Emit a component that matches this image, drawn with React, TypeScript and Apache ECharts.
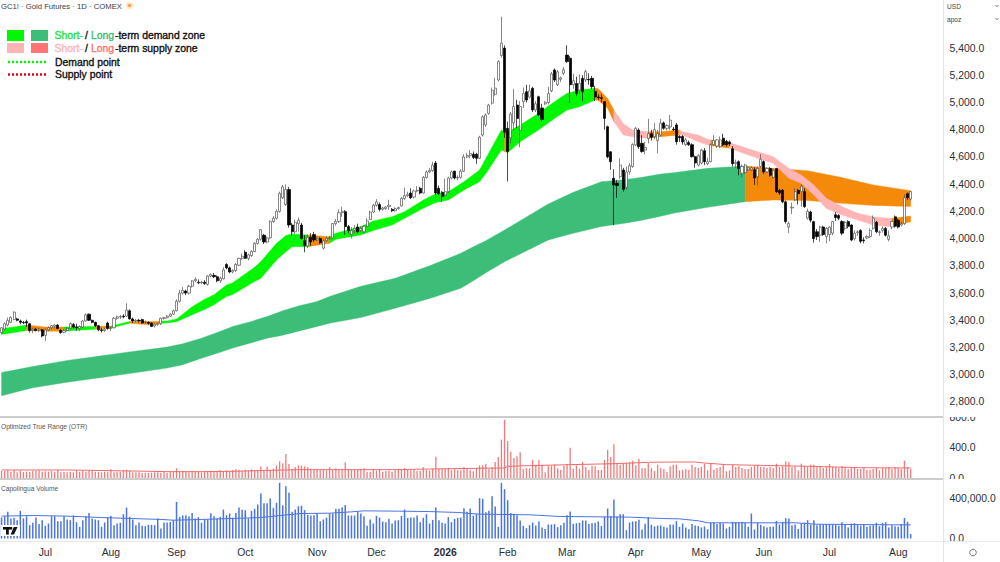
import React, { useEffect, useRef } from "react";
import * as echarts from "echarts";

type Row = number[];
// candles: [open, close, low, high]
const candlesJun: Row[] = [
[3310,3345,3300,3350],[3335,3375,3325,3385],[3365,3400,3355,3420],[3385,3420,3380,3430],[3405,3460,3400,3465],[3410,3400,3392,3418],[3395,3385,3370,3405],[3385,3382,3372,3395],[3390,3380,3350,3405],[3375,3325,3310,3380],[3325,3335,3305,3345],[3335,3325,3318,3345],[3325,3335,3315,3345],[3330,3285,3275,3335]];
const candlesJul: Row[] = [
[3290,3330,3250,3340],[3330,3345,3320,3355],[3345,3360,3335,3365],[3355,3365,3345,3372],[3365,3340,3335,3372],[3325,3310,3300,3335],[3312,3325,3305,3335],[3325,3340,3318,3350],[3340,3375,3335,3385],[3370,3350,3340,3380],[3350,3345,3325,3375],[3340,3355,3320,3362],[3350,3395,3345,3400],[3395,3440,3390,3450],[3445,3400,3395,3450],[3400,3385,3378,3405],[3385,3360,3350,3390],[3360,3330,3320,3365],[3330,3325,3310,3345],[3325,3335,3315,3345],[3380,3340,3330,3390]];
const candlesAug: Row[] = [
[3340,3345,3320,3355],[3345,3415,3340,3425],[3415,3425,3405,3435],[3425,3428,3410,3440],[3430,3425,3415,3445],[3430,3475,3425,3525],[3470,3410,3405,3480],[3410,3395,3380,3420],[3395,3400,3385,3410],[3400,3395,3385,3410],[3405,3380,3372,3412],[3385,3388,3375,3398],[3385,3378,3368,3392],[3380,3355,3350,3385],[3358,3370,3348,3375],[3370,3375,3360,3382],[3375,3415,3365,3420],[3415,3418,3405,3425],[3420,3430,3412,3438],[3430,3445,3425,3452],[3445,3470,3440,3480]];
const candlesSep: Row[] = [
[3470,3540,3465,3555],[3540,3600,3530,3625],[3600,3620,3590,3645],[3615,3600,3585,3625],[3600,3650,3590,3660],[3650,3690,3640,3695],[3690,3700,3680,3715],[3680,3675,3665,3700],[3675,3680,3665,3690],[3680,3670,3660,3695],[3665,3725,3655,3730],[3725,3735,3715,3745],[3730,3720,3710,3748],[3720,3690,3680,3730],[3690,3710,3675,3720],[3705,3770,3700,3790],[3810,3785,3775,3820],[3785,3755,3745,3795],[3755,3765,3745,3775],[3765,3810,3755,3820],[3805,3855,3800,3860],[3855,3870,3845,3890]];
const candlesOct: Row[] = [
[3900,3855,3850,3915],[3855,3880,3840,3890],[3875,3905,3865,3915],[3905,3965,3900,3975],[3965,3995,3955,4005],[3995,4065,3985,4070],[4025,3975,3960,4035],[3975,4005,3965,4015],[4005,4125,3995,4135],[4125,4150,4115,4165],[4150,4200,4140,4215],[4200,4333,4190,4345],[4300,4380,4290,4395],[4250,4360,4240,4398],[4360,4100,4080,4380],[4100,4050,4020,4115],[4050,4120,4035,4140],[4110,4135,4050,4155],[4100,4000,3990,4115],[3985,3950,3900,4025],[3945,4010,3930,4030],[4010,3975,3945,4040],[4030,3990,3975,4050]];
const candlesNov: Row[] = [
[3990,4000,3980,4015],[4000,3970,3960,4010],[3930,3985,3920,3995],[3985,4000,3975,4015],[4000,4005,3990,4020],[4005,4110,4000,4115],[4110,4125,4095,4145],[4125,4190,4115,4215],[4190,4200,4160,4235],[4198,4088,4027,4210],[4088,4060,4040,4100],[4030,4060,4000,4085],[4060,4075,4040,4100],[4085,4050,4035,4110],[4060,4075,4050,4090],[4050,4090,4040,4100],[4090,4130,4085,4150],[4140,4195,4135,4205],[4195,4245,4190,4255]];
const candlesDec: Row[] = [
[4245,4270,4235,4290],[4250,4215,4200,4265],[4215,4225,4205,4235],[4220,4232,4212,4240],[4235,4245,4210,4285],[4215,4205,4195,4225],[4205,4220,4198,4230],[4220,4228,4212,4235],[4240,4295,4235,4305],[4295,4315,4285,4375],[4315,4325,4305,4345],[4335,4300,4290,4370],[4305,4350,4295,4360],[4350,4355,4340,4385],[4370,4335,4325,4380],[4335,4450,4330,4460],[4450,4490,4440,4500],[4490,4500,4480,4520],[4500,4540,4490,4565],[4555,4335,4320,4570],[4370,4330,4320,4390],[4340,4310,4270,4350]];
const candlesJan: Row[] = [
[4320,4345,4310,4440],[4345,4445,4335,4455],[4445,4490,4435,4500],[4495,4445,4435,4500],[4445,4450,4430,4465],[4450,4495,4440,4510],[4495,4600,4490,4620],[4600,4610,4590,4630],[4610,4625,4590,4650],[4620,4595,4585,4640],[4620,4590,4550,4630],[4590,4745,4585,4755],[4761,4895,4750,4905],[4835,4908,4820,4920],[4920,4980,4910,4990],[4995,5090,4985,5110],[5060,5105,5050,5180],[5165,5300,5155,5310],[5345,5435,5330,5630],[5400,4780,4740,5420]];
const candlesFeb: Row[] = [
[4810,4640,4420,4860],[4740,4915,4700,4930],[4850,4970,4790,5100],[4981,4883,4810,5020],[4795,4970,4670,5010],[5005,5065,4960,5110],[5079,5018,5000,5130],[5040,5085,5030,5130],[5104,4945,4930,5115],[4945,4990,4930,5010],[5042,4908,4900,5050],[4960,4875,4860,4990],[4990,5000,4980,5010],[5000,5065,4985,5115],[5085,5210,5075,5225],[5238,5165,5150,5250],[5130,5225,5120,5240],[5170,5180,5150,5190],[5215,5240,5200,5260]];
const candlesMar: Row[] = [
[5348,5300,5290,5420],[5325,5130,4995,5340],[5130,5160,5100,5210],[5140,5067,5050,5190],[5090,5140,5060,5205],[5177,5079,5010,5200],[5165,5226,5150,5240],[5170,5165,5130,5215],[5177,5116,5100,5195],[5080,5040,5010,5120],[5040,5035,5020,5060],[5035,5030,5000,5060],[5006,4883,4800,5010],[4822,4600,4590,4830],[4638,4565,4505,4640],[4443,4394,4100,4510],[4406,4390,4300,4430],[4455,4540,4440,4590],[4504,4362,4345,4520],[4375,4490,4360,4530],[4490,4535,4470,4555],[4530,4690,4520,4700]];
const candlesApr: Row[] = [
[4688,4810,4680,4820],[4798,4675,4660,4810],[4700,4640,4630,4760],[4650,4670,4620,4710],[4736,4770,4700,4880],[4770,4745,4720,4800],[4750,4800,4730,4850],[4720,4770,4625,4800],[4761,4847,4750,4880],[4850,4810,4800,4860],[4810,4830,4795,4840],[4820,4870,4800,4908],[4805,4800,4790,4820],[4835,4712,4690,4850],[4750,4740,4710,4760],[4750,4710,4690,4760],[4690,4725,4680,4740],[4705,4690,4680,4720],[4690,4602,4595,4700],[4602,4555,4520,4610],[4540,4610,4530,4620]];
const candlesMay: Row[] = [
[4555,4650,4545,4660],[4645,4565,4540,4665],[4550,4565,4540,4595],[4565,4690,4560,4700],[4690,4720,4680,4760],[4680,4725,4665,4730],[4675,4725,4665,4750],[4738,4690,4680,4770],[4715,4690,4675,4725],[4710,4695,4680,4720],[4660,4550,4530,4680],[4550,4560,4520,4580],[4565,4515,4465,4575],[4480,4530,4450,4545],[4485,4540,4475,4550],[4505,4520,4495,4530],[4505,4520,4495,4530],[4505,4445,4395,4525],[4455,4515,4390,4530],[4530,4583,4520,4620]];
const candlesJunB: Row[] = [
[4565,4490,4475,4575],[4490,4515,4480,4525],[4515,4465,4455,4525],[4450,4500,4440,4515],[4515,4345,4335,4520],[4355,4335,4320,4365],[4355,4270,4260,4365],[4270,4125,4110,4280],[4085,4110,4040,4125],[4225,4230,4180,4265],[4285,4345,4275,4370],[4355,4330,4250,4365],[4345,4385,4235,4400],[4345,4235,4225,4370],[4150,4200,4140,4220],[4195,4135,4120,4205],[4125,4000,3970,4130],[4050,4015,3990,4070],[4025,4085,3975,4095],[4085,4030,4020,4095],[4015,4075,3965,4085]];
const candlesJulB: Row[] = [
[4030,4085,3980,4090],[4040,4125,4025,4130],[4175,4155,4130,4195],[4170,4150,4135,4180],[4125,4040,4025,4135],[4075,4120,4060,4130],[4125,4090,4075,4135],[4100,3990,3980,4105],[4000,4040,3985,4060],[4045,4050,4020,4060],[4060,3980,3965,4070],[3990,3985,3965,4010],[4005,4015,3995,4025],[4015,4060,4005,4075],[4075,4150,4065,4170],[4120,4050,4040,4130],[4045,4050,4020,4060],[4060,4075,4045,4090],[4075,4025,4015,4085],[3995,4020,3980,4060],[4085,4125,4070,4130],[4160,4090,4080,4170]];
const candlesAugB: Row[] = [
[4135,4085,4075,4145],[4100,4110,4090,4125],[4110,4300,4100,4325],[4330,4300,4285,4340],[4290,4345,4280,4350]];
const candles: Row[] = [...candlesJun,...candlesJul,...candlesAug,...candlesSep,...candlesOct,...candlesNov,...candlesDec,...candlesJan,...candlesFeb,...candlesMar,...candlesApr,...candlesMay,...candlesJunB,...candlesJulB,...candlesAugB];

// short / long-term zones: bar index, lower edge, upper edge
const shortIdx = [0,4,8,14,20,27,30,35,41,47,51,53,56,58,61,65,68,72,74,81,83,88,91,93,98,105,107,115,119,125,129,135,139,143,148,153,155,160,161,162,163,166,171,177,181,185,190,191,194,196,199,202,207,211,217,218,223,226,227,233,242,247,252,256,260,264,269,274,279,284,285,291];
const shortLow = [3295,3310,3325,3320,3320,3330,3335,3343,3378,3368,3378,3380,3390,3410,3440,3480,3514,3574,3590,3685,3708,3843,3904,3941,3941,3965,3995,4027,4060,4100,4149,4223,4265,4284,4357,4418,4479,4651,4640,4630,4650,4712,4785,4883,4944,4969,5018,5015,4957,4859,4761,4749,4736,4749,4761,4761,4712,4687,4684,4663,4590,4553,4443,4406,4320,4222,4173,4137,4100,4088,4090,4124];
const shortHigh = [3340,3350,3365,3350,3350,3355,3355,3358,3392,3390,3393,3395,3410,3445,3500,3555,3587,3660,3675,3790,3831,3965,4022,4034,4027,4014,4040,4088,4130,4161,4198,4284,4330,4345,4418,4504,4589,4798,4790,4785,4795,4834,4908,5006,5067,5091,5104,5100,5030,4944,4846,4798,4785,4785,4798,4785,4761,4729,4725,4705,4638,4602,4516,4467,4394,4296,4235,4186,4161,4149,4150,4166];
const longIdx = [0,10,21,32,42,53,58,64,69,74,80,85,90,95,101,105,115,126,137,147,151,155,161,175,183,192,200,205,211,215,226,238,247,258,269,279,291];
const longLow = [2845,2905,2945,2980,3012,3049,3073,3122,3157,3196,3235,3269,3290,3320,3355,3379,3420,3488,3560,3635,3690,3750,3830,3990,4039,4088,4115,4135,4165,4186,4230,4271,4284,4279,4259,4244,4235];
const longHigh = [3017,3061,3105,3139,3171,3203,3228,3269,3310,3355,3392,3428,3470,3505,3538,3575,3650,3708,3800,3892,3940,3985,4063,4255,4340,4418,4435,4450,4474,4484,4516,4533,4516,4499,4448,4394,4352];
const GREEN = "#00f700", LONG_GREEN = "#3dbe78", PINK = "#ffb4b6", ORANGE = "#f58a0a", LONG_RED = "#ff7373", DOT_RED = "#e8001c";
const shortZones: [number, number, string][] = [[0,8,GREEN],[8,20,ORANGE],[20,30,GREEN],[30,35,ORANGE],[35,41,GREEN],[41,51,ORANGE],[51,98,GREEN],[98,105,ORANGE],[105,161,GREEN],[161,162,ORANGE],[162,190,GREEN],[190,196,ORANGE],[196,207,PINK],[207,217,ORANGE],[217,227,PINK],[227,233,ORANGE],[233,285,PINK],[285,291,ORANGE]];
const longZones: [number, number, string][] = [[0,238,LONG_GREEN],[238,291,ORANGE]];

const otrJ: number[] = [97,97,101,84,101,75,97,79,84,79,97,97,101,84,88,84,92,84,106,75,79,75,84,75,101,84,97,84,97,97,84,79,75,84,75,114,75,84,84,97,110,97,75,75,75,66,70,66,70,75,75,70,79,70,75,84,128,84,88,84,75,97,79,79,75,79,79,97,92,84,101,88,101,88,106,114,110,92,110,97,114,101,106,150,101,150,110,123,163,220,194,317,185,119,145,167,163,154,141,123,110,110,101,110,101,145,101,128];
const otrK: number[] = [106,119,207,119,106,110,110,119,128,84,84,119,97,110,84,92,97,84,101,119,119,132,110,101,110,92,92,141,110,101,119,282,119,119,128,136,106,119,101,101,145,119,110,88,119,167,167,189,119,145,211,277,506,770,488,348,264,286,339,119,132,128,242,176,242,176,75,163,163,176,128,110,163,185,400,123,167,123,216,145,106,163,154,106,106,238,374,277,444,185,176,198,198,207,229,167,255,128,132,198,132,92,176,132,119,79,154];
const otrL: number[] = [176,176,101,110,119,110,176,145,132,145,189,101,198,110,132,145,176,88,101,176,145,154,132,119,119,145,163,176,145,145,132,145,132,189,145,154,220,211,145,154,101,189,154,145,176,176,145,145,132,145,185,145,145,132,154,145,119,132,145,119,119,132,110,110,119,132,101,128,128,145,119,145,128,119,229,145,119];
const otr = [...otrJ, ...otrK, ...otrL];
const otrAvgIdx = [0,21,42,53,64,74,85,96,105,127,137,153,161,162,169,182,196,207,214,222,225,232,243,259,275,291];
const otrAvg = [106,106,92,84,84,88,101,110,110,110,119,128,132,154,163,176,189,207,211,211,198,176,167,154,136,132];

// volume, thousands of contracts
const volJ: number[] = [207,220,263,198,204,181,273,198,220,132,155,207,142,181,125,148,220,220,171,171,220,188,181,227,161,115,181,220,253,198,188,181,115,158,207,224,132,148,155,240,306,214,188,132,158,125,122,135,135,132,198,99,158,158,165,181,362,214,227,230,220,253,198,211,155,188,188,250,220,198,214,286,230,247,204,253,306,283,280,198,273,293,336,444,349,349,395,303,352,550,329,517,451,263,286,319,323,280,234,227,230,253,171,188,207,247,247,293];
const volK: number[] = [293,306,332,227,227,227,263,247,220,125,188,148,224,207,168,161,194,148,178,181,224,286,204,207,207,227,161,204,240,148,184,306,181,155,148,211,161,194,204,207,300,263,296,224,240,398,392,260,273,418,316,115,550,487,379,253,244,230,178,125,102,132,158,128,168,109,95,138,138,142,112,132,155,230,267,145,151,155,178,178,142,151,155,168,122,214,296,220,385,214,240,240,82,158,168,171,184,89,145,211,135,119,128,128,115,109,138];
const volL: number[] = [138,171,115,148,109,92,142,128,122,109,119,92,155,155,142,155,148,99,115,165,161,158,165,155,115,247,89,155,135,122,109,115,115,174,138,165,201,198,132,138,95,151,158,181,138,181,132,138,135,142,142,138,135,125,161,142,109,148,151,132,128,135,115,125,132,155,122,155,161,109,132,122,115,142,204,165,43];
const volume = [...volJ, ...volK, ...volL];
const volAvgIdx = [0,10,21,32,42,51,55,64,74,83,90,96,105,112,116,127,137,146,153,162,169,179,191,201,212,217,223,226,254,261,286,291];
const volAvg = [221,227,221,207,197,188,181,188,198,207,230,247,250,263,273,270,266,257,240,237,234,217,214,211,197,194,175,155,155,141,135,135];

const SLOTS = 302;
const categories = Array.from({ length: SLOTS }, (_, i) => String(i));
const monthIdx = [14,35,56,78,101,120,142,162,181,203,224,244,265,287];
const monthLabels = ["Jul","Aug","Sep","Oct","Nov","Dec","2026","Feb","Mar","Apr","May","Jun","Jul","Aug"];
const priceTicks = [2800,3000,3200,3400,3600,3800,4000,4200,4400,4600,4800,5000,5200,5400];
const otrTicks = [0,400,800];
const volTicks = [0,400000];

const FONT = "'Liberation Sans', Arial, sans-serif";
const TICK = "#2a2e39";
const AXIS_SIZE = 10.4;
const fmt = (v: number) => v.toLocaleString("en-US", { minimumFractionDigits: 1, maximumFractionDigits: 1 });

const edge = (idx: number[], vals: number[], at: number) => {
  const k = idx.indexOf(at);
  if (k >= 0) return vals[k];
  let j = 0;
  while (idx[j + 1] < at) j++;
  return vals[j] + ((vals[j + 1] - vals[j]) * (at - idx[j])) / (idx[j + 1] - idx[j]);
};

const zoneSeries = (idx: number[], low: number[], high: number[], zones: [number, number, string][], z: number) => ({
  type: "custom",
  xAxisIndex: 0,
  yAxisIndex: 0,
  z,
  clip: true,
  silent: true,
  data: zones.map((zone) => [zone[0], zone[1]]),
  encode: { x: [0, 1] },
  renderItem: (params: any, api: any) => {
    const [from, to, color] = zones[params.dataIndex];
    const xs = [from, ...idx.filter((i) => i > from && i < to), to];
    const upper = xs.map((i) => api.coord([i, edge(idx, high, i)]));
    const lower = xs.map((i) => api.coord([i, edge(idx, low, i)])).reverse();
    return { type: "polygon", shape: { points: [...upper, ...lower] }, style: { fill: color, stroke: color, lineWidth: 0.4 } };
  },
});

const text = (x: number, y: number, t: string, size: number, fill: string, extra: any = {}) => ({
  type: "text", x, y, z: 60, silent: true,
  style: { text: t, fontSize: size, fontFamily: FONT, fill, textVerticalAlign: "middle", ...extra },
});
const rect = (x: number, y: number, w: number, h: number, fill: string, z = 60) => ({
  type: "rect", z, silent: true, shape: { x, y, width: w, height: h }, style: { fill },
});
const hline = (x1: number, x2: number, y: number, stroke: string, width = 1, dash?: number[]) => ({
  type: "line", z: 55, silent: true, shape: { x1, y1: y, x2, y2: y }, style: { stroke, lineWidth: width, lineDash: dash },
});

const LEGEND_SIZE = 10.4;
const legendText = (x: number, y: number, t: string, fill: string) =>
  text(x, y, t, LEGEND_SIZE, fill, { stroke: fill, lineWidth: 0.35 });
const legendRow = (y: number, shortFill: string, longFill: string, rest: string) => [
  legendText(54.5, y, "Short-", shortFill),
  legendText(85, y, "/", "#111"),
  legendText(91, y, "Long", longFill),
  legendText(115, y, rest, "#111"),
];

const graphics = [
  // pane frames
  rect(944, 408, 56, 9, "#fff"),
  rect(944, 479, 56, 6, "#fff"),
  hline(0, 944, 417, "#9a9a9a", 1.2),
  hline(0, 944, 479, "#9a9a9a", 1.2),
  hline(0, 1000, 541.5, "#e8eaef", 1),
  { type: "line", z: 55, silent: true, shape: { x1: 943.5, y1: 0, x2: 943.5, y2: 562 }, style: { stroke: "#e3e5ea", lineWidth: 1 } },
  // title + pane names
  text(1, 6, "GC1! · Gold Futures · 1D · COMEX", 7.7, "#3a3d47"),
  { type: "circle", z: 60, silent: true, shape: { cx: 129.5, cy: 5.5, r: 3.8 }, style: { fill: "#fde7c8" } },
  { type: "circle", z: 61, silent: true, shape: { cx: 129.5, cy: 5.5, r: 1.6 }, style: { fill: "#f2a23c" } },
  text(1, 426, "Optimized True Range (OTR)", 6.6, "#555"),
  text(1, 488, "Capolingua Volume", 6.6, "#555"),
  // top-right selectors
  text(947, 6, "USD", 6.6, "#444"),
  text(947, 19, "apoz", 6.6, "#444"),
  { type: "polyline", z: 60, silent: true, shape: { points: [[995.5,5],[997,6.8],[998.5,5]] }, style: { stroke: "#666", lineWidth: 0.8, fill: "none" } },
  { type: "polyline", z: 60, silent: true, shape: { points: [[995.5,18],[997,19.8],[998.5,18]] }, style: { stroke: "#666", lineWidth: 0.8, fill: "none" } },
  // settings icon
  { type: "circle", z: 60, silent: true, shape: { cx: 973, cy: 552.5, r: 3.3 }, style: { stroke: "#777", lineWidth: 1, fill: "#fff" } },
  // legend
  rect(7, 30, 17, 11, GREEN),
  rect(31, 30, 17, 11, LONG_GREEN),
  rect(7, 43, 17, 10, PINK),
  rect(31, 43, 17, 10, LONG_RED),
  hline(8, 48, 62, GREEN, 2.5, [2, 2]),
  hline(8, 48, 74.5, DOT_RED, 2.5, [2, 2]),
  ...legendRow(35.5, "#22e03a", LONG_GREEN, "-term demand zone"),
  ...legendRow(48.5, PINK, LONG_RED, "-term supply zone"),
  legendText(55, 62, "Demand point", "#111"),
  legendText(55, 74.5, "Supply point", "#111"),
  // TV mark
  rect(1, 525, 19, 11, "#fff", 62),
  rect(3, 527, 7, 2.6, "#111", 63),
  rect(6, 527, 2.8, 7.6, "#111", 63),
  { type: "circle", z: 63, silent: true, shape: { cx: 11, cy: 528.3, r: 1.4 }, style: { fill: "#111" } },
  { type: "polygon", z: 63, silent: true, shape: { points: [[13.8,527],[17.5,527],[14,534.6],[10.6,534.6]] }, style: { fill: "#111" } },
];

const xBase = { type: "category", data: categories, boundaryGap: true, axisLine: { show: false }, axisTick: { show: false }, splitLine: { show: false } };
const yBase = (ticks: number[], min: number, max: number, gridIndex: number) => ({
  type: "value", gridIndex, position: "right", min, max, scale: false,
  axisLine: { show: false }, axisTick: { show: false }, splitLine: { show: false },
  axisLabel: { customValues: ticks, formatter: (v: number) => fmt(v), color: TICK, fontSize: AXIS_SIZE, fontFamily: FONT, margin: 6 },
});

export default function App() {
  const ref = useRef<HTMLDivElement>(null);
  useEffect(() => {
    const chart = echarts.init(ref.current!, undefined, { renderer: "svg" });
    chart.setOption({
      animation: false,
      backgroundColor: "#ffffff",
      grid: [
        { left: 0, top: 0, width: 943.5, height: 416 },
        { left: 0, top: 417.4, width: 943.5, height: 60.6 },
        { left: 0, top: 479, width: 943.5, height: 59.5 },
      ],
      xAxis: [
        { ...xBase, gridIndex: 0, axisLabel: { show: false } },
        { ...xBase, gridIndex: 1, axisLabel: { show: false } },
        { ...xBase, gridIndex: 2, axisLabel: {
            show: true, margin: 9, fontSize: AXIS_SIZE, fontFamily: FONT, color: TICK, hideOverlap: false,
            interval: (i: number) => monthIdx.includes(i),
            formatter: (_: string, i: number) => { const l = monthLabels[monthIdx.indexOf(i)] ?? ""; return l === "2026" ? `{y|${l}}` : l; },
            rich: { y: { fontWeight: 700, fontSize: AXIS_SIZE, fontFamily: FONT, color: TICK } },
        } },
      ],
      yAxis: [yBase(priceTicks, 2697, 5752.6, 0), yBase(otrTicks, 0, 800, 1), yBase(volTicks, 0, 587654, 2)],
      series: [
        zoneSeries(longIdx, longLow, longHigh, longZones, 1),
        zoneSeries(shortIdx, shortLow, shortHigh, shortZones, 2),
        { type: "candlestick", xAxisIndex: 0, yAxisIndex: 0, z: 3, data: candles, barWidth: 2.6, silent: true,
          itemStyle: { color: "#ffffff", color0: "#000000", borderColor: "#555555", borderColor0: "#000000", borderWidth: 0.7 } },
        { type: "bar", xAxisIndex: 1, yAxisIndex: 1, data: otr, barWidth: 1.3, silent: true, itemStyle: { color: "#f27a7a" } },
        { type: "line", xAxisIndex: 1, yAxisIndex: 1, z: 4, data: otrAvgIdx.map((x, k) => [x, otrAvg[k]]), showSymbol: false, silent: true, lineStyle: { color: "#f26a6a", width: 1 } },
        { type: "bar", xAxisIndex: 2, yAxisIndex: 2, data: volume.map((v) => v * 1000), barWidth: 1.5, silent: true, itemStyle: { color: "#4a74e4" } },
        { type: "line", xAxisIndex: 2, yAxisIndex: 2, z: 4, data: volAvgIdx.map((x, k) => [x, volAvg[k] * 1000]), showSymbol: false, silent: true, lineStyle: { color: "#4a74e4", width: 1 } },
      ],
      graphic: { elements: graphics },
    });
    return () => chart.dispose();
  }, []);
  return <div ref={ref} style={{ position: "fixed", left: 0, top: 0, width: 1000, height: 562 }} />;
}
